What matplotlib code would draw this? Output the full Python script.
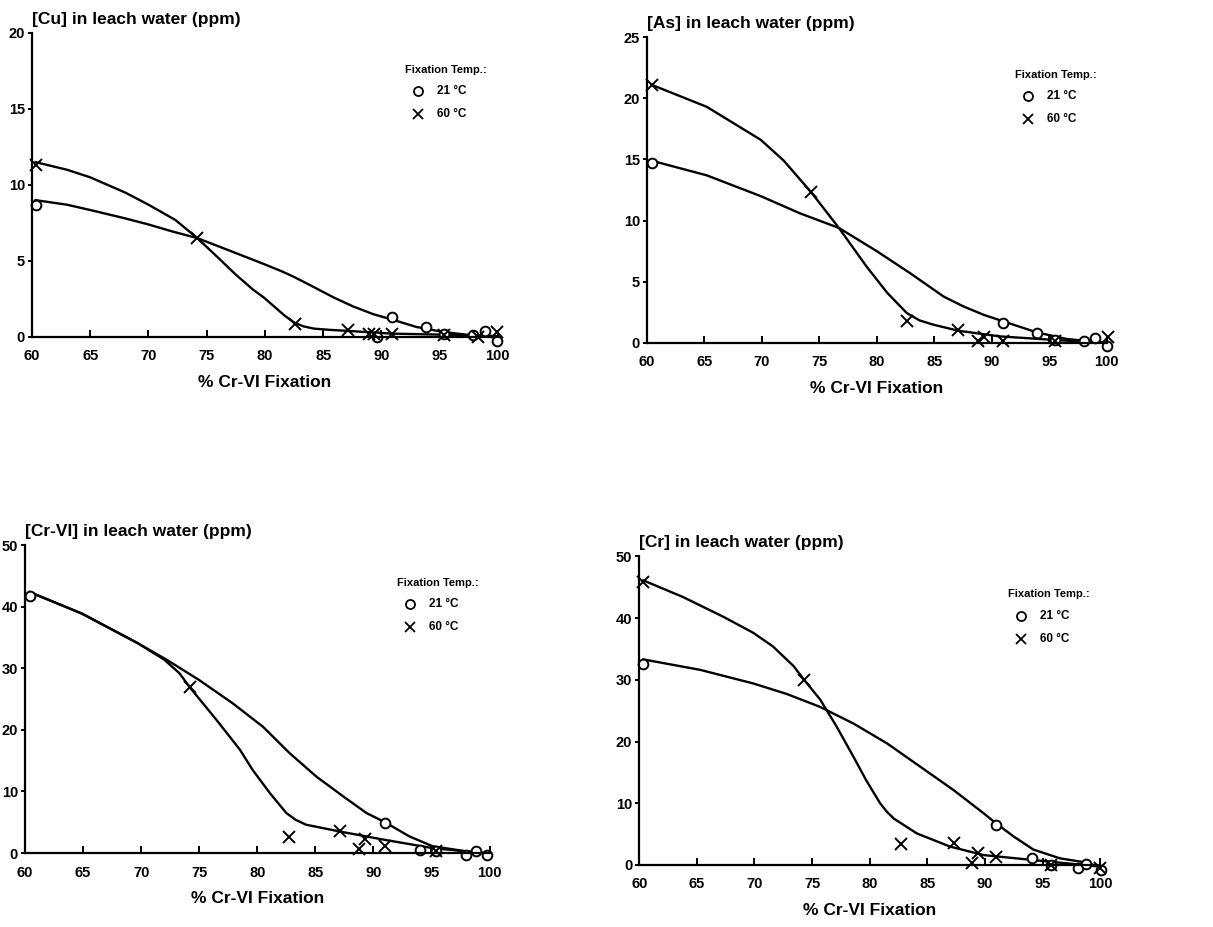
import matplotlib
matplotlib.use("Agg")
import matplotlib.pyplot as plt

plt.rcParams['font.family'] = ['Liberation Sans', 'DejaVu Sans']
plt.rcParams['font.weight'] = 'bold'

# ---- Cu panel ----
cu_x21 = [60.3, 89.6, 90.9, 93.8, 95.4, 97.9, 98.9, 99.9]
cu_y21 = [8.7, 0.0, 1.3, 0.66, 0.22, 0.15, 0.37, -0.25]
cu_x60 = [60.3, 74.2, 82.6, 87.1, 88.9, 89.4, 90.9, 95.4, 98.3, 99.9]
cu_y60 = [11.3, 6.5, 0.88, 0.44, 0.2, 0.2, 0.22, 0.12, 0.0, 0.33]
cu_fit21_x = [60.3, 63, 65, 68, 70, 72, 74.2, 77.4, 79.9, 81.5, 82.5, 83.9, 85.9, 87.6, 89.3, 90.9, 93, 95.3, 97.3, 100]
cu_fit21_y = [9.0, 8.7, 8.35, 7.8, 7.4, 6.95, 6.5, 5.55, 4.8, 4.3, 3.95, 3.4, 2.6, 2.0, 1.5, 1.15, 0.66, 0.33, 0.15, 0.05]
cu_fit60_x = [60.3, 63, 65, 68, 70, 72.3, 74.2, 76, 77.5, 79, 79.9, 80.8, 81.7, 82.5, 83.3, 84.2, 85.5, 87.1, 90.9, 95.3, 100]
cu_fit60_y = [11.5, 11.0, 10.5, 9.5, 8.7, 7.7, 6.5, 5.2, 4.1, 3.1, 2.6, 2.0, 1.4, 0.95, 0.7, 0.55, 0.47, 0.4, 0.22, 0.15, 0.0]

# ---- As panel ----
as_x21 = [60.4, 91.0, 93.9, 95.5, 98.0, 99.0, 100.0]
as_y21 = [14.7, 1.63, 0.82, 0.22, 0.14, 0.4, -0.27]
as_x60 = [60.4, 74.3, 82.6, 87.1, 88.8, 89.3, 91.0, 95.5, 100.1]
as_y60 = [21.1, 12.3, 1.77, 1.09, 0.14, 0.5, 0.14, 0.14, 0.5]
as_fit21_x = [60.4, 65.2, 69.9, 73.3, 76.7, 80.0, 82.9, 85.8, 87.5, 89.3, 91.0, 93.9, 96.5, 100]
as_fit21_y = [14.9, 13.7, 12.0, 10.6, 9.4, 7.5, 5.7, 3.8, 3.0, 2.3, 1.77, 0.87, 0.33, 0.0]
as_fit60_x = [60.4, 65.2, 69.9, 71.9, 74.3, 76.7, 79.1, 80.9, 82.6, 83.7, 84.9, 87.1, 90.7, 95.1, 100]
as_fit60_y = [21.1, 19.3, 16.6, 14.9, 12.3, 9.4, 6.25, 4.1, 2.45, 1.85, 1.5, 1.0, 0.54, 0.27, 0.0]

# ---- Cr-VI panel ----
cr6_x21 = [60.4, 91.0, 94.0, 95.4, 98.0, 98.8, 99.8]
cr6_y21 = [41.7, 4.86, 0.54, 0.27, -0.4, 0.27, -0.4]
cr6_x60 = [74.2, 82.7, 87.1, 88.8, 89.3, 91.0, 95.4]
cr6_y60 = [26.9, 2.6, 3.5, 0.65, 2.2, 1.2, 0.3]
cr6_fit21_x = [60.4, 64.9, 69.7, 72.2, 75.0, 77.9, 80.5, 82.8, 85.1, 87.4, 89.4, 91.0, 93.1, 95.1, 98.0, 100]
cr6_fit21_y = [42.4, 38.9, 34.1, 31.4, 28.1, 24.3, 20.5, 16.2, 12.4, 9.2, 6.5, 5.0, 2.7, 1.1, 0.27, -0.1]
cr6_fit60_x = [60.4, 64.9, 69.7, 72.0, 73.3, 74.2, 76.5, 78.5, 79.6, 81.1, 82.5, 83.3, 84.2, 87.1, 90.8, 95.1, 100]
cr6_fit60_y = [42.4, 38.9, 34.1, 31.4, 29.2, 26.9, 21.6, 16.8, 13.5, 9.7, 6.5, 5.4, 4.6, 3.5, 2.2, 0.8, -0.1]

# ---- Cr panel ----
cr_x21 = [60.35, 91.0, 94.1, 95.7, 98.1, 98.8, 100.1]
cr_y21 = [32.5, 6.5, 1.08, 0.0, -0.5, 0.16, -0.8]
cr_x60 = [60.35, 74.3, 82.7, 87.3, 88.9, 89.4, 91.0, 95.7, 100.0]
cr_y60 = [45.8, 30.0, 3.4, 3.5, 0.38, 2.0, 1.24, 0.0, -0.5]
cr_fit21_x = [60.35, 65.3, 69.9, 72.8, 75.7, 78.6, 81.5, 84.4, 87.3, 89.9, 91.0, 92.5, 94.2, 96.5, 98.3, 100]
cr_fit21_y = [33.3, 31.6, 29.4, 27.7, 25.6, 22.9, 19.7, 15.9, 12.1, 8.35, 6.7, 4.6, 2.5, 1.08, 0.54, -0.27]
cr_fit60_x = [60.35, 63.8, 67.3, 69.9, 71.6, 73.4, 74.3, 75.7, 77.1, 78.6, 79.7, 80.9, 81.5, 82.1, 84.1, 87.0, 89.9, 94.2, 100]
cr_fit60_y = [46.1, 43.4, 40.2, 37.6, 35.4, 32.2, 30.0, 26.8, 22.5, 17.5, 13.7, 10.0, 8.6, 7.5, 5.1, 2.96, 1.6, 0.8, -0.27]

titles = ["[Cu] in leach water (ppm)", "[As] in leach water (ppm)",
          "[Cr-VI] in leach water (ppm)", "[Cr] in leach water (ppm)"]
ymax = [20, 25, 50, 50]
ystep = [5, 5, 10, 10]

panels = [
    (cu_x21, cu_y21, cu_x60, cu_y60, cu_fit21_x, cu_fit21_y, cu_fit60_x, cu_fit60_y),
    (as_x21, as_y21, as_x60, as_y60, as_fit21_x, as_fit21_y, as_fit60_x, as_fit60_y),
    (cr6_x21, cr6_y21, cr6_x60, cr6_y60, cr6_fit21_x, cr6_fit21_y, cr6_fit60_x, cr6_fit60_y),
    (cr_x21, cr_y21, cr_x60, cr_y60, cr_fit21_x, cr_fit21_y, cr_fit60_x, cr_fit60_y),
]

# axes boxes in figure fraction (left, bottom, width, height)
boxes = [
    [0.0264, 0.6365, 0.384, 0.328],
    [0.5334, 0.630, 0.379, 0.330],
    [0.0206, 0.0798, 0.383, 0.332],
    [0.527, 0.0669, 0.380, 0.333],
]

fig = plt.figure(figsize=(12.13, 9.27), dpi=100)

for i in range(4):
    x21, y21, x60, y60, fx21, fy21, fx60, fy60 = panels[i]
    ax = fig.add_axes(boxes[i])

    # fitted curves
    ax.plot(fx21, fy21, color='black', lw=1.7, solid_joinstyle='round', clip_on=False)
    ax.plot(fx60, fy60, color='black', lw=1.7, solid_joinstyle='round', clip_on=False)

    # data points
    ax.plot(x21, y21, 'o', mfc='white', mec='black', ms=7, mew=1.4, ls='none', clip_on=False)
    ax.plot(x60, y60, 'x', color='black', ms=8, mew=1.4, ls='none', clip_on=False)

    ax.set_xlim(60, 100)
    ax.set_ylim(0, ymax[i])
    ax.set_xticks(range(60, 101, 5))
    ax.set_yticks(range(0, ymax[i] + 1, ystep[i]))

    ax.spines['top'].set_visible(False)
    ax.spines['right'].set_visible(False)
    ax.spines['left'].set_linewidth(1.6)
    ax.spines['bottom'].set_linewidth(1.6)

    ax.tick_params(axis='x', direction='in', length=5, width=1.4, pad=9, labelsize=10.5)
    ax.tick_params(axis='y', direction='out', length=3, width=1.4, pad=2, labelsize=10.5)
    # little hook at top of y axis
    ax.set_yticks([ymax[i]], minor=True)
    ax.tick_params(axis='y', which='minor', direction='in', length=5, width=1.4)
    for lab in ax.get_xticklabels() + ax.get_yticklabels():
        lab.set_fontweight('bold')

    ax.set_xlabel("% Cr-VI Fixation", fontsize=12.5, fontweight='bold', labelpad=8)
    ax.text(0.0, 1.045, titles[i], transform=ax.transAxes, ha='left', va='center',
            fontsize=12.5, fontweight='bold')

    # legend drawn by hand like in the original
    ax.text(0.80, 0.877, "Fixation Temp.:", transform=ax.transAxes, ha='left', va='center',
            fontsize=8, fontweight='bold')
    ax.plot([0.828], [0.808], 'o', mfc='white', mec='black', ms=6.5, mew=1.3,
            transform=ax.transAxes, clip_on=False)
    ax.plot([0.828], [0.733], 'x', color='black', ms=7, mew=1.3,
            transform=ax.transAxes, clip_on=False)
    ax.text(0.87, 0.808, "21 °C", transform=ax.transAxes, ha='left', va='center',
            fontsize=8.5, fontweight='bold')
    ax.text(0.87, 0.733, "60 °C", transform=ax.transAxes, ha='left', va='center',
            fontsize=8.5, fontweight='bold')

fig.savefig("out.png", dpi=100)
